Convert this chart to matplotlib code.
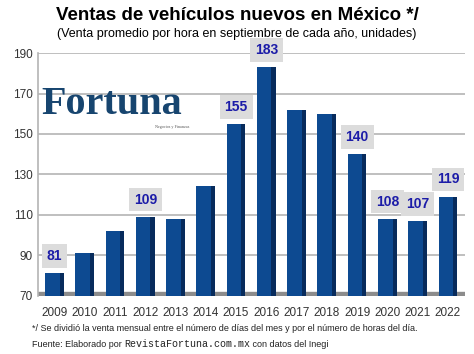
import matplotlib.pyplot as plt
import numpy as np

# =====================================================================
# Data
# =====================================================================
years = ["2009", "2010", "2011", "2012", "2013", "2014", "2015",
         "2016", "2017", "2018", "2019", "2020", "2021", "2022"]
sales = [81, 91, 102, 109, 108, 124, 155, 183, 162, 160, 140, 108, 107, 119]
labeled = ["2009", "2012", "2015", "2016", "2019", "2020", "2021", "2022"]
yticks = [70, 90, 110, 130, 150, 170, 190]

# =====================================================================
# Figure
# =====================================================================
plt.rcParams['font.family'] = ['Liberation Sans', 'DejaVu Sans']
fig = plt.figure(figsize=(4.74, 3.54), dpi=100)
fig.patch.set_facecolor("white")
ax = fig.add_axes([0.08, 0.165, 0.90, 0.685])

x = np.arange(len(years))

# main bars plus a darker side strip to fake the 3D look
ax.bar(x, sales, width=0.62, bottom=0, color="#0d4a91", zorder=3)
ax.bar(x + 0.24, sales, width=0.14, bottom=0, color="#072b5c", zorder=4)

ax.set_ylim(70, 190)
ax.set_xlim(-0.55, 13.55)
ax.set_yticks(yticks)
ax.set_xticks(x)
ax.set_xticklabels(years)
ax.tick_params(axis="both", length=0, labelsize=8.5, colors="#333333")
ax.tick_params(axis="x", pad=8)
ax.grid(axis="y", color="#b4b4b4", linewidth=1.2, zorder=0)
for side in ["top", "right", "bottom"]:
  ax.spines[side].set_visible(False)
ax.spines["left"].set_color("#b4b4b4")
ax.spines["left"].set_linewidth(1.2)

# gray floor
ax.axhspan(70, 72, color="#8c8c8c", zorder=2)

# value boxes
for i, yr in enumerate(years):
  if yr in labeled:
    ax.text(i, sales[i] + 8.5, str(sales[i]), ha="center", va="center",
            fontsize=10, fontweight="bold", color="#1c1ca8", zorder=5,
            bbox=dict(boxstyle="square,pad=0.35", facecolor="#dcdcdc",
                      edgecolor="none"))

# logo
ax.text(-0.45, 164.5, "Fortuna", fontsize=29, family="Liberation Serif",
        fontweight="bold", color="#17456f", va="center", ha="left", zorder=5)
ax.text(4.45, 153.3, "Negocios y Finanzas", fontsize=3, family="Liberation Serif",
        color="#555555", va="center", ha="right", zorder=5)

# titles
fig.text(0.5, 0.955, "Ventas de vehículos nuevos en México */",
         ha="center", va="center", fontsize=13.5, fontweight="bold")
fig.text(0.5, 0.905, "(Venta promedio por hora en septiembre de cada año, unidades)",
         ha="center", va="center", fontsize=9)

# footnotes
fig.text(0.068, 0.072,
         "*/ Se dividió la venta mensual entre el número de días del mes y por el número de horas del día.",
         ha="left", va="center", fontsize=6.5, color="#222222")
t1 = fig.text(0.068, 0.028, "Fuente: Elaborado por ", ha="left", va="center",
              fontsize=6.5, color="#222222")
a2 = fig.add_artist(plt.Annotation("RevistaFortuna.com.mx", xy=(1, 0.5), xycoords=t1,
                                   ha="left", va="center", fontsize=7.2,
                                   family="Liberation Mono", color="#222222"))
fig.add_artist(plt.Annotation(" con datos del Inegi", xy=(1, 0.5), xycoords=a2,
                              ha="left", va="center", fontsize=6.5, color="#222222"))

plt.savefig("out.png", dpi=100)
plt.close()
